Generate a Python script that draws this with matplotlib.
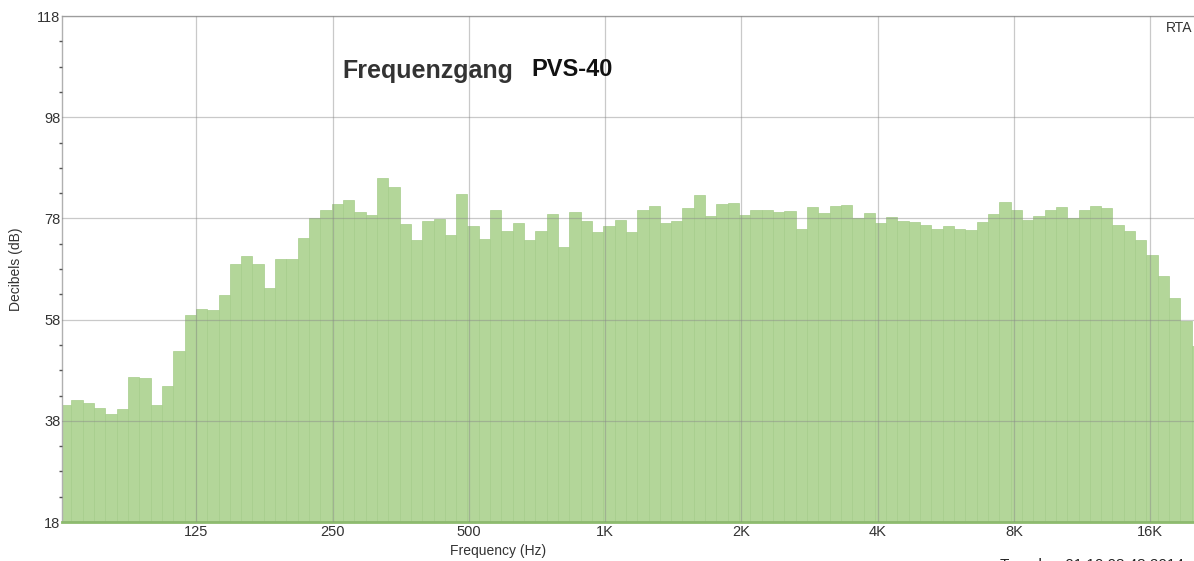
import matplotlib.pyplot as plt
import numpy as np

# RTA levels per 1/12-octave band (dB), low to high
levels = [41.1, 42.2, 41.5, 40.6, 39.3, 40.3, 46.6, 46.5, 41.2, 44.8,
          51.8, 59.0, 60.1, 59.9, 62.8, 68.9, 70.6, 68.9, 64.2, 69.9,
          70.0, 74.1, 78.1, 79.6, 80.8, 81.7, 79.3, 78.7, 86.0, 84.2,
          76.8, 73.8, 77.4, 77.9, 74.8, 82.9, 76.5, 74.0, 79.6, 75.5,
          77.1, 73.7, 75.6, 78.9, 72.3, 79.3, 77.4, 75.4, 76.4, 77.7,
          75.4, 79.6, 80.4, 77.1, 77.5, 80.1, 82.7, 78.5, 80.8, 81.1,
          78.7, 79.7, 79.7, 79.3, 79.5, 76.0, 80.2, 79.1, 80.5, 80.6,
          78.1, 79.1, 77.1, 78.3, 77.5, 77.2, 76.6, 76.0, 76.4, 75.9,
          75.8, 77.3, 78.9, 81.2, 79.7, 77.7, 78.5, 79.7, 80.2, 78.1,
          79.6, 80.4, 80.1, 76.7, 75.6, 73.8, 70.7, 66.6, 62.3, 57.7,
          52.8]

# band edges: 1/12 octave (base ten) starting at 62.5 Hz
f_start = 62.5
edges = f_start * 10 ** (np.arange(len(levels) + 1) / 40)

xticks = [125, 250, 500, 1000, 2000, 4000, 8000, 16000]
xticklabels = ['125', '250', '500', '1K', '2K', '4K', '8K', '16K']
yticks = [18, 38, 58, 78, 98, 118]
floor = 18

plt.rcParams['font.family'] = ['Liberation Sans', 'DejaVu Sans']

fig = plt.figure(figsize=(11.94, 5.61), dpi=100)
ax = fig.add_axes([62 / 1194, 1 - 522 / 561, (1194 - 62) / 1194, 506 / 561])

heights = np.array(levels) - floor
ax.bar(edges[:-1], heights, width=np.diff(edges), align='edge', bottom=floor,
       color='#b3d699', edgecolor='#a6cd8b', linewidth=0.5, zorder=1)

ax.set_xscale('log')
ax.set_xlim(63.1, 20000)
ax.set_ylim(18, 118)
ax.set_xticks(xticks)
ax.set_xticklabels(xticklabels)
ax.minorticks_off()
ax.set_yticks(yticks)
ax.set_yticks(np.arange(23, 118, 5), minor=True)
ax.tick_params(axis='x', length=0, labelsize=10.5, colors='#333333', pad=2)
ax.tick_params(axis='y', which='major', length=0, labelsize=10.5, colors='#333333', pad=1)
ax.tick_params(axis='y', which='minor', length=2, width=1, color='#555555')

ax.grid(True, which='major', color='#888888', alpha=0.45, linewidth=0.9, zorder=3)
ax.set_axisbelow(False)

for s in ['top', 'left']:
    ax.spines[s].set_color('#b0b0b0')
    ax.spines[s].set_linewidth(1)
ax.spines['right'].set_visible(False)
ax.spines['bottom'].set_color('#8dbb6e')
ax.spines['bottom'].set_linewidth(2)

ax.set_xlabel('Frequency (Hz)', fontsize=10, color='#333333')
ax.xaxis.set_label_coords((498 - 62) / 1132, -0.044)
ax.set_ylabel('Decibels (dB)', fontsize=10, color='#333333', labelpad=10)

fig.text(342 / 1194, 1 - 71 / 561, 'Frequenzgang', fontsize=18, fontweight='bold',
         color='#333333', va='center')
fig.text(531 / 1194, 1 - 70 / 561, 'PVS-40', fontsize=17, fontweight='bold',
         color='#111111', va='center')
fig.text(1166 / 1194, 1 - 28 / 561, 'RTA', fontsize=10, color='#333333', va='center')
fig.text(1000 / 1194, -4 / 561, 'Tuesday, 01.10.08:48 2014', fontsize=11,
         color='#222222', va='center')

fig.savefig('out.png', dpi=100)
